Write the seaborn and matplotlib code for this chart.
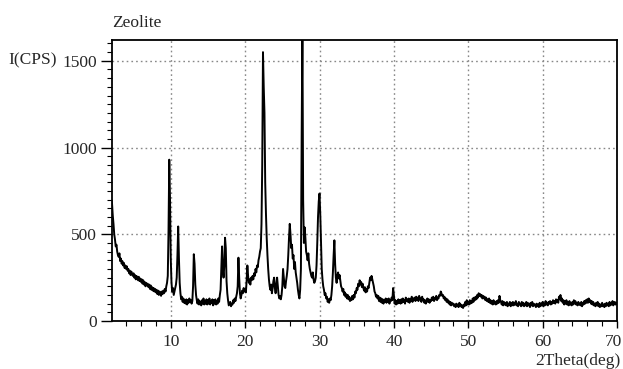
import numpy as np
import pandas as pd
import matplotlib
matplotlib.use("Agg")
import matplotlib.pyplot as plt
from matplotlib.ticker import MultipleLocator
from matplotlib.transforms import ScaledTranslation
import seaborn as sns

# Scan grid: 2theta from 2.0 to 70.0 deg, step 0.1
scan_start = 2.0
scan_step = 0.1

# Intensities (CPS), one row per degree (x.0 ... x.9)
intensity_rows = [
    [700, 680, 610, 560, 500, 470, 430, 440, 400, 380],   # 2
    [370, 390, 345, 360, 330, 345, 320, 335, 305, 320],   # 3
    [300, 315, 290, 300, 275, 290, 265, 285, 270, 260],   # 4
    [275, 250, 265, 240, 260, 245, 235, 255, 230, 245],   # 5
    [225, 240, 215, 235, 210, 225, 200, 220, 205, 215],   # 6
    [195, 210, 185, 205, 180, 195, 175, 190, 170, 185],   # 7
    [165, 180, 155, 175, 150, 170, 160, 145, 170, 155],   # 8
    [175, 160, 185, 170, 200, 220, 260, 520, 930, 700],   # 9
    [360, 220, 170, 190, 150, 170, 190, 210, 250, 380],   # 10
    [545, 360, 220, 160, 125, 140, 110, 130, 105, 120],   # 11
    [100, 125, 95, 120, 105, 130, 110, 120, 100, 115],    # 12
    [200, 385, 330, 210, 150, 120, 100, 125, 95, 115],    # 13
    [105, 90, 120, 100, 130, 95, 115, 100, 125, 95],      # 14
    [120, 100, 130, 95, 115, 105, 125, 90, 120, 100],     # 15
    [125, 95, 115, 100, 130, 110, 150, 180, 300, 430],    # 16
    [300, 250, 320, 480, 420, 230, 160, 120, 90, 100],    # 17
    [110, 85, 100, 95, 120, 105, 130, 115, 140, 160],     # 18
    [200, 365, 250, 160, 130, 150, 175, 160, 190, 170],   # 19
    [185, 165, 230, 320, 260, 220, 240, 210, 250, 235],   # 20
    [260, 240, 275, 260, 300, 280, 320, 310, 350, 370],   # 21
    [400, 420, 560, 900, 1550, 1350, 1200, 800, 620, 480],  # 22
    [380, 300, 240, 200, 180, 210, 160, 190, 230, 250],   # 23
    [190, 160, 210, 250, 200, 150, 130, 145, 125, 150],   # 24
    [200, 300, 250, 200, 190, 230, 260, 300, 380, 480],   # 25
    [560, 500, 420, 440, 360, 380, 300, 340, 280, 250],   # 26
    [220, 180, 150, 130, 180, 300, 1060, 1700, 700, 450], # 27
    [540, 480, 400, 380, 350, 390, 330, 300, 280, 260],   # 28
    [250, 280, 240, 220, 230, 250, 320, 450, 600, 690],   # 29
    [735, 620, 450, 300, 240, 200, 180, 150, 160, 130],   # 30
    [140, 110, 125, 105, 130, 120, 150, 200, 280, 380],   # 31
    [465, 330, 250, 220, 260, 280, 245, 265, 230, 200],   # 32
    [190, 170, 185, 150, 165, 140, 155, 130, 150, 125],   # 33
    [140, 115, 130, 120, 145, 125, 150, 135, 170, 160],   # 34
    [190, 180, 215, 200, 235, 210, 225, 195, 215, 190],   # 35
    [175, 195, 165, 185, 170, 200, 190, 220, 250, 235],   # 36
    [260, 240, 220, 200, 170, 160, 140, 150, 130, 145],   # 37
    [115, 135, 110, 130, 105, 125, 100, 120, 110, 130],   # 38
    [105, 125, 110, 130, 100, 120, 115, 135, 120, 190],   # 39
    [150, 100, 120, 95, 115, 100, 125, 105, 120, 100],    # 40
    [125, 105, 130, 110, 120, 100, 135, 115, 125, 110],   # 41
    [130, 105, 125, 115, 140, 110, 130, 120, 135, 115],   # 42
    [140, 120, 135, 115, 145, 125, 130, 110, 140, 120],   # 43
    [125, 105, 120, 100, 115, 130, 110, 125, 105, 120],   # 44
    [115, 135, 120, 140, 115, 130, 125, 145, 120, 135],   # 45
    [130, 150, 145, 170, 160, 145, 150, 130, 140, 120],   # 46
    [130, 110, 125, 105, 115, 95, 110, 90, 105, 95],      # 47
    [100, 85, 95, 80, 100, 85, 95, 80, 105, 90],          # 48
    [95, 80, 90, 75, 95, 85, 110, 90, 120, 95],           # 49
    [110, 95, 120, 100, 115, 105, 130, 110, 135, 120],    # 50
    [140, 125, 150, 135, 160, 145, 155, 140, 150, 130],   # 51
    [145, 130, 140, 120, 135, 115, 125, 110, 130, 105],   # 52
    [120, 100, 115, 95, 120, 100, 110, 95, 115, 100],     # 53
    [120, 105, 145, 120, 110, 95, 115, 90, 110, 95],      # 54
    [105, 90, 110, 85, 100, 95, 110, 85, 105, 90],        # 55
    [110, 90, 105, 95, 115, 90, 100, 85, 110, 95],        # 56
    [100, 85, 110, 90, 105, 85, 100, 90, 110, 85],        # 57
    [105, 90, 100, 80, 105, 90, 110, 85, 100, 90],        # 58
    [95, 80, 100, 85, 95, 80, 105, 85, 100, 90],          # 59
    [110, 85, 100, 90, 115, 95, 105, 90, 110, 100],       # 60
    [115, 95, 110, 100, 120, 105, 115, 100, 125, 110],    # 61
    [120, 105, 140, 125, 150, 115, 130, 105, 120, 95],    # 62
    [115, 100, 120, 95, 110, 90, 115, 95, 105, 90],       # 63
    [110, 95, 120, 100, 115, 95, 105, 90, 110, 95],       # 64
    [100, 90, 110, 85, 105, 95, 115, 100, 120, 105],      # 65
    [125, 105, 130, 110, 120, 100, 115, 95, 110, 90],     # 66
    [100, 85, 105, 90, 110, 85, 100, 80, 95, 85],         # 67
    [105, 85, 95, 80, 100, 85, 105, 90, 100, 85],         # 68
    [110, 90, 105, 95, 115, 90, 100, 110, 95, 105],       # 69
    [100],                                                # 70
]

title_text = "Zeolite"
y_label = "I(CPS)"
x_label = "2Theta(deg)"
x_ticks = [10, 20, 30, 40, 50, 60, 70]
y_ticks = [0, 500, 1000, 1500]

intensity = [v for row in intensity_rows for v in row]
two_theta = np.round(scan_start + scan_step * np.arange(len(intensity)), 2)
df = pd.DataFrame({"two_theta": two_theta, "intensity": intensity})

sns.set_style("white")
plt.rcParams["font.family"] = ["Liberation Serif", "DejaVu Serif"]

fig = plt.figure(figsize=(6.23, 3.69), dpi=100)
ax = fig.add_axes([112 / 623, 1 - 321 / 369, (617 - 112) / 623, (321 - 40) / 369])

sns.lineplot(data=df, x="two_theta", y="intensity", ax=ax, color="black",
             linewidth=1.4, estimator=None, sort=False)

ax.set_xlim(2.1, 70)
ax.set_ylim(0, 1620)
ax.set_xticks(x_ticks)
ax.set_yticks(y_ticks)
ax.xaxis.set_minor_locator(MultipleLocator(2))
ax.yaxis.set_minor_locator(MultipleLocator(50))
ax.tick_params(axis="both", which="major", direction="out", labelsize=12.5,
               color="black", width=1.0)
ax.tick_params(axis="x", which="major", length=5, pad=4)
ax.tick_params(axis="y", which="major", length=8, pad=3)
ax.tick_params(axis="both", which="minor", direction="out", length=3.5,
               width=0.8, color="black")
ax.tick_params(bottom=True, left=True, which="both")
ax.set_xlabel("")
ax.set_ylabel("")

# nudge the last x tick label inward so it stays inside the figure
fig.canvas.draw()
last_lbl = ax.get_xticklabels()[-1]
last_lbl.set_transform(last_lbl.get_transform() + ScaledTranslation(-4 / 100, 0, fig.dpi_scale_trans))

ax.grid(True, which="major", color="#888888", linestyle=(0, (1.2, 2.2)), linewidth=1.0)
for s in ax.spines.values():
    s.set_color("black")
    s.set_linewidth(1.3)

fig.text(112 / 623, 1 - 23 / 369, title_text, fontsize=12.5, ha="left", va="center")
fig.text(8 / 623, 1 - 60 / 369, y_label, fontsize=12.5, ha="left", va="center")
fig.text(621 / 623, 1 - 361 / 369, x_label, fontsize=12.5, ha="right", va="center")

fig.savefig("out.png", dpi=100)
